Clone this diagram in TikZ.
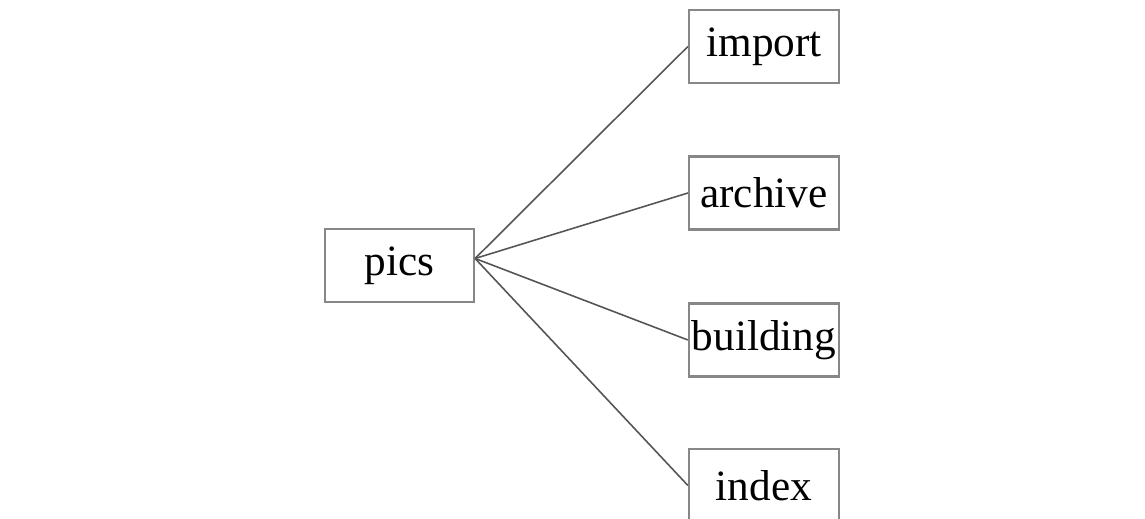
\documentclass[tikz,border=0pt]{standalone}
\usepackage{fontspec}
\setmainfont{Liberation Serif}
\usetikzlibrary{positioning}
\definecolor{boxgray}{RGB}{135,135,135}
\definecolor{linegray}{RGB}{85,85,85}
\tikzset{
	block/.style={draw=boxgray, line width=0.6pt, inner sep=0pt, minimum width=1.5cm, minimum height=0.73cm, font=\fontsize{12.3}{14}\selectfont},
	branch/.style={draw=linegray, line width=0.45pt}
}

\begin{document}
\begin{tikzpicture}[x=0.01cm, y=-0.01cm]
		\useasboundingbox (0,0) rectangle (1145,519);
		
		\node[block, minimum width=1.49cm] (pics) at (399.5,265.5) {pics};
		\coordinate (hub) at ([yshift=0.07cm]pics.east);
		
		\node[block] (import)   at (764,46.5) {import};
		\node[block] (archive)  at (764,193)  {archive};
		\node[block] (building) at (764,340)  {building};
		\node[block] (index)    at (764,485.5) {index};
		
		\draw[branch] (hub) -- (import.west);
		\draw[branch] (hub) -- (archive.west);
		\draw[branch] (hub) -- (building.west);
		\draw[branch] (hub) -- (index.west);
	\end{tikzpicture}
\end{document}
